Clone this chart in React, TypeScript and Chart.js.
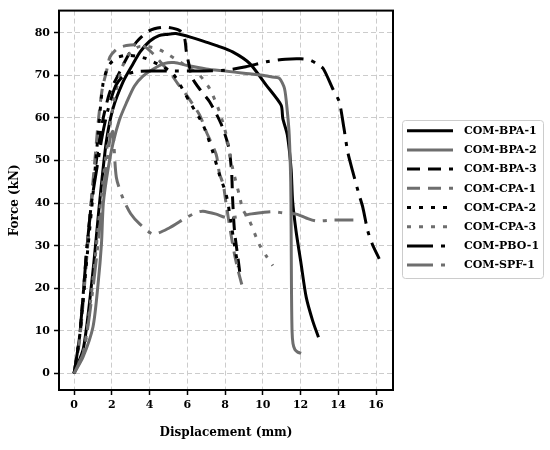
import React, { useEffect, useRef } from 'react';
import { Chart, registerables } from 'chart.js';

Chart.register(...registerables);

const seriesNames = [
  'COM-BPA-1',
  'COM-BPA-2',
  'COM-BPA-3',
  'COM-CPA-1',
  'COM-CPA-2',
  'COM-CPA-3',
  'COM-PBO-1',
  'COM-SPF-1',
];

const bpa1Disp = [0, 0.5, 1.0, 1.36, 1.71, 2.06, 2.6, 3.1, 3.5, 4.0, 4.5, 4.9, 5.4, 6.3, 7.0, 7.6, 8.4, 9.3, 10.18, 10.97, 11.06, 11.3, 11.5, 11.58, 11.76, 12.03, 12.3, 12.64, 12.95];
const bpa1Force = [0, 6, 24, 40.5, 54.5, 62.2, 68.5, 72.5, 75.5, 78, 79.3, 79.6, 79.8, 78.8, 77.8, 76.9, 75.5, 72.8, 67.7, 63, 59.9, 56, 48, 40.5, 33.5, 25.7, 17.9, 12.4, 8.5];

const bpa2Disp = [0, 0.48, 1.0, 1.27, 1.45, 1.55, 1.8, 2.06, 2.4, 2.77, 3.2, 3.65, 4.2, 4.8, 5.3, 6.0, 7.0, 8.0, 9.0, 10.0, 10.5, 10.88, 11.15, 11.3, 11.4, 11.48, 11.5, 11.52, 11.55, 11.6, 11.7, 11.85, 12.03];
const bpa2Force = [0, 3.9, 10.9, 21, 30.4, 40, 48, 54, 59.5, 63.5, 67.5, 69.8, 71.5, 72.8, 73, 72.3, 71.5, 71, 70.5, 70, 69.6, 69.3, 66.9, 61.5, 56, 45, 35, 20, 10, 7, 5.6, 5, 4.7];

const bpa3Disp = [0, 0.3, 0.65, 0.92, 1.18, 1.5, 1.89, 2.42, 2.77, 3.3, 4.0, 4.8, 5.6, 5.86, 5.95, 6.28, 6.7, 7.18, 7.8, 8.2, 8.35, 8.4, 8.5, 8.68, 8.8];
const bpa3Force = [0, 9, 28, 40.5, 50, 59, 66, 70.8, 73.9, 77.8, 80.5, 81.3, 80.5, 78.6, 75.5, 69.3, 66.5, 63.8, 58.5, 53, 47, 41, 33.5, 27.2, 23];

const cpa1Disp = [0, 0.3, 0.65, 0.9, 1.1, 1.3, 1.5, 1.71, 1.9, 2.3, 2.77, 3.3, 3.65, 4.2, 4.7, 5.06, 5.5, 5.95, 6.65, 7.0, 7.53, 7.7, 7.9, 8.06, 8.3, 8.5, 8.7, 8.93];
const cpa1Force = [0, 8, 26, 40, 50, 60, 67, 70.8, 74.3, 76.3, 77, 77.2, 77, 75, 72.5, 70.8, 68, 65.4, 60.7, 56.8, 51.4, 47, 44.4, 39.7, 33, 28, 24, 20.2];

const cpa2Disp = [0, 0.3, 0.7, 1.0, 1.25, 1.53, 1.8, 2.2, 2.77, 3.3, 3.83, 4.53, 5.24, 6.12, 6.83, 7.35, 7.7, 8.06, 8.3, 8.5, 8.7];
const cpa2Force = [0, 9, 28, 42, 55, 68, 72, 74, 74.7, 74.5, 73.9, 72.4, 70.4, 63.8, 58.4, 52, 46.7, 42, 36, 30, 25];

const cpa3Disp = [0, 0.5, 1.0, 1.4, 1.8, 2.2, 2.6, 3.0, 3.5, 4.36, 5.06, 6.0, 6.65, 7.18, 7.7, 8.06, 8.4, 8.77, 8.94, 9.3, 9.8, 10.18, 10.53];
const cpa3Force = [0, 5, 22, 40, 55, 66, 72.5, 75.5, 76.8, 76.3, 74.7, 72, 70, 66.9, 61.5, 56, 48.2, 41.6, 38.5, 35.8, 30.4, 27.6, 25.3];

const pbo1Disp = [0, 0.3, 0.65, 0.92, 1.2, 1.5, 1.8, 2.2, 2.6, 3.2, 4.0, 6.0, 8.0, 9.1, 10.2, 11.2, 12.0, 12.5, 12.83, 13.2, 13.7, 14.05, 14.3, 14.5, 14.76, 15.1, 15.3, 15.56, 15.8, 16.17];
const pbo1Force = [0, 9, 28, 40, 48, 56, 62, 67.5, 69.8, 70.8, 71, 71, 71.2, 72, 73.2, 73.8, 73.9, 73.6, 72.8, 71.6, 66.9, 63.8, 57.6, 52, 47.5, 42, 39, 33.5, 30.4, 26.9];

const spf1Disp = [0, 0.5, 1.0, 1.4, 1.7, 1.9, 2.05, 2.24, 2.6, 3.0, 3.5, 4.2, 5.06, 5.95, 6.5, 6.83, 7.53, 8.06, 8.7, 9.3, 10.0, 10.5, 11.06, 11.77, 12.3, 12.83, 13.7, 14.3, 14.8];
const spf1Force = [0, 5, 20, 36, 48, 55, 56.8, 46, 41, 37.5, 35, 32.7, 34.2, 36.6, 37.8, 38.1, 37.4, 36.6, 36.8, 37.4, 37.8, 38, 37.7, 37.4, 36.5, 35.8, 36, 36, 36];

const xTicks = [0, 2, 4, 6, 8, 10, 12, 14, 16];
const yTicks = [0, 10, 20, 30, 40, 50, 60, 70, 80];

const seriesDisp = [bpa1Disp, bpa2Disp, bpa3Disp, cpa1Disp, cpa2Disp, cpa3Disp, pbo1Disp, spf1Disp];
const seriesForce = [bpa1Force, bpa2Force, bpa3Force, cpa1Force, cpa2Force, cpa3Force, pbo1Force, spf1Force];

const BLACK = '#000000';
const GRAY = '#6e6e6e';
const SOLID: number[] = [];
const DASHED = [13, 8];
const DOTTED = [4, 8];
const DASHDOT = [26, 8, 4, 8];

const lineStyles = [
  { color: BLACK, dash: SOLID },
  { color: GRAY, dash: SOLID },
  { color: BLACK, dash: DASHED },
  { color: GRAY, dash: DASHED },
  { color: BLACK, dash: DOTTED },
  { color: GRAY, dash: DOTTED },
  { color: BLACK, dash: DASHDOT },
  { color: GRAY, dash: DASHDOT },
];

const FONT = '"DejaVu Serif", serif';

// frame around the plot area (all four sides)
const framePlugin = {
  id: 'frame',
  afterDatasetsDraw(chart: any) {
    const { ctx, chartArea } = chart;
    ctx.save();
    ctx.strokeStyle = '#000';
    ctx.lineWidth = 2;
    ctx.strokeRect(chartArea.left, chartArea.top, chartArea.right - chartArea.left, chartArea.bottom - chartArea.top);
    ctx.restore();
  },
};

// boxed legend outside the plot on the right
const legendPlugin = {
  id: 'boxLegend',
  afterDraw(chart: any) {
    const ctx = chart.ctx;
    const bx = 402;
    const by = 120;
    const bw = 141;
    const bh = 158;
    ctx.save();
    ctx.fillStyle = '#ffffff';
    ctx.strokeStyle = '#cccccc';
    ctx.lineWidth = 1;
    ctx.beginPath();
    ctx.roundRect(bx + 0.5, by + 0.5, bw, bh, 3);
    ctx.fill();
    ctx.stroke();
    ctx.font = `bold 11px ${FONT}`;
    ctx.textBaseline = 'middle';
    chart.data.datasets.forEach((ds: any, i: number) => {
      const rowY = 130.7 + i * 19.2;
      ctx.setLineDash(ds.borderDash || []);
      ctx.strokeStyle = ds.borderColor;
      ctx.lineWidth = 3;
      ctx.beginPath();
      ctx.moveTo(407, rowY);
      ctx.lineTo(453, rowY);
      ctx.stroke();
      ctx.setLineDash([]);
      ctx.fillStyle = '#000';
      ctx.fillText(ds.label, 464, rowY + 0.5);
    });
    ctx.restore();
  },
};

const ForceChart: React.FC = () => {
  const chartRef = useRef<HTMLCanvasElement>(null);
  const chartInstance = useRef<Chart | null>(null);

  useEffect(() => {
    if (!chartRef.current) return;
    const ctx = chartRef.current.getContext('2d');
    if (!ctx) return;

    if (chartInstance.current) {
      chartInstance.current.destroy();
    }

    const tickFont = { family: FONT, size: 11, weight: 'bold' as const };
    const titleFont = { family: FONT, size: 12, weight: 'bold' as const };

    chartInstance.current = new Chart(ctx, {
      type: 'line',
      data: {
        datasets: seriesNames.map((name, i) => ({
          label: name,
          data: seriesDisp[i].map((d, j) => ({ x: d, y: seriesForce[i][j] })),
          borderColor: lineStyles[i].color,
          backgroundColor: lineStyles[i].color,
          borderDash: lineStyles[i].dash,
          borderWidth: 3,
          borderCapStyle: 'butt',
          borderJoinStyle: 'round',
          pointRadius: 0,
          tension: 0.25,
          fill: false,
          order: seriesNames.length - i,
        })),
      },
      options: {
        responsive: true,
        maintainAspectRatio: false,
        animation: false,
        layout: { padding: { top: 8, right: 157, left: 0, bottom: 0 } },
        scales: {
          x: {
            type: 'linear',
            min: -0.8,
            max: 16.9,
            afterBuildTicks: (s: any) => {
              s.ticks = xTicks.map((v) => ({ value: v }));
            },
            afterFit: (s: any) => {
              s.height = 60;
            },
            ticks: { color: '#000', font: tickFont, padding: 4, maxRotation: 0 },
            grid: { color: '#cccccc', lineWidth: 1, tickLength: 5, tickColor: '#000', tickWidth: 1.5 },
            border: { display: false, dash: [5, 3] },
            title: {
              display: true,
              text: 'Displacement (mm)',
              color: '#000',
              font: titleFont,
              padding: { top: 4, bottom: 10 },
            },
          },
          y: {
            type: 'linear',
            min: -3.9,
            max: 85.2,
            afterBuildTicks: (s: any) => {
              s.ticks = yTicks.map((v) => ({ value: v }));
            },
            afterFit: (s: any) => {
              s.width = 59;
            },
            ticks: { color: '#000', font: tickFont, padding: 4 },
            grid: { color: '#cccccc', lineWidth: 1, tickLength: 5, tickColor: '#000', tickWidth: 1.5 },
            border: { display: false, dash: [5, 3] },
            title: {
              display: true,
              text: 'Force (kN)',
              color: '#000',
              font: titleFont,
              padding: { top: 8, bottom: 0 },
            },
          },
        },
        plugins: {
          legend: { display: false },
          tooltip: { enabled: false },
        },
      },
      plugins: [framePlugin, legendPlugin],
    });

    return () => {
      if (chartInstance.current) {
        chartInstance.current.destroy();
        chartInstance.current = null;
      }
    };
  }, []);

  return (
    <div style={{ position: 'absolute', left: 0, top: 0, width: 550, height: 450, background: '#fff' }}>
      <canvas ref={chartRef} />
    </div>
  );
};

export default function App() {
  return <ForceChart />;
}
